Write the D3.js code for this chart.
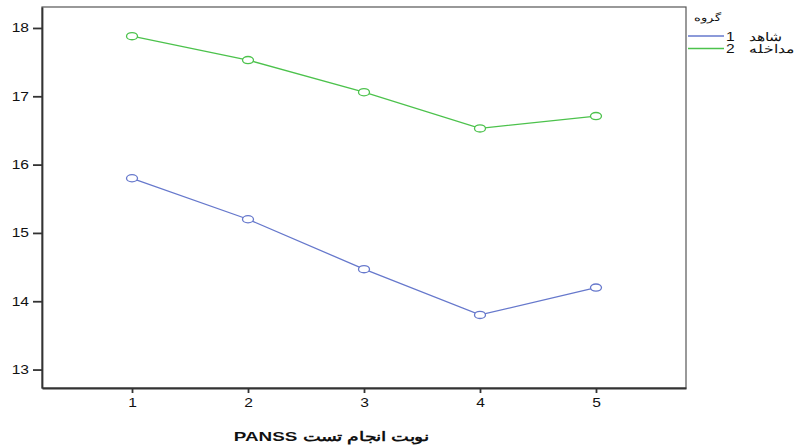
<!DOCTYPE html>
<html><head><meta charset="utf-8">
<script src="https://cdn.jsdelivr.net/npm/d3@7"></script>
<style>body{margin:0;background:#fff;} text{font-family:"Liberation Sans",Arial,sans-serif;}</style>
</head><body>
<svg id="chart" width="803" height="446"></svg>
<script>
const sessions = [1, 2, 3, 4, 5];
const controlValues = [15.80, 15.20, 14.47, 13.80, 14.20];
const interventionValues = [17.88, 17.53, 17.06, 16.53, 16.71];
const yTicks = [13, 14, 15, 16, 17, 18];
const seriesNames = ["1", "2"];
const seriesLabels = ["شاهد", "مداخله"];
const seriesColors = ["#6678cc", "#4cc24c"];
const legendTitle = "گروه";
const xTitle = "نوبت انجام تست PANSS";

(function(){
const S = 1.3; // horizontal text stretch seen in reference
const svg = d3.select("#chart");
const pL = 42, pR = 686, pT = 7, pB = 388;
const x = d3.scaleLinear().domain([0.224, 5.776]).range([pL, pR]);
const y = d3.scaleLinear().domain([12.73, 18.307]).range([pB, pT]);

svg.append("rect").attr("x", pL).attr("y", pT).attr("width", pR-pL).attr("height", pB-pT)
  .attr("fill", "none").attr("stroke", "#555").attr("stroke-width", 1.2);

const yAxis = svg.append("g").attr("transform", `translate(${pL},0)`)
  .call(d3.axisLeft(y).tickValues(yTicks).tickSizeInner(9).tickSizeOuter(0).tickFormat(d3.format("d")));
const xAxis = svg.append("g").attr("transform", `translate(0,${pB})`)
  .call(d3.axisBottom(x).tickValues(sessions).tickSizeInner(5).tickSizeOuter(0).tickFormat(d3.format("d")));
[yAxis, xAxis].forEach(a => {
  a.select(".domain").attr("stroke", "#333").attr("stroke-width", 1.8);
  a.selectAll(".tick line").attr("stroke", "#333").attr("stroke-width", 1.8);
  a.selectAll(".tick text").attr("fill", "#111").attr("font-size", 12)
   .attr("font-family", "Liberation Sans, Arial, sans-serif");
});
yAxis.selectAll(".tick text").attr("x", -13 / S).attr("transform", `scale(${S},1)`);
xAxis.selectAll(".tick text").attr("y", 10).attr("transform", `scale(${S},1)`);

const series = [controlValues, interventionValues];
const line = d3.line().x((d,i) => x(sessions[i])).y(d => y(d));
series.forEach((vals, k) => {
  svg.append("path").datum(vals).attr("d", line).attr("fill", "none")
    .attr("stroke", seriesColors[k]).attr("stroke-width", 1.3);
  svg.selectAll(null).data(vals).enter().append("ellipse")
    .attr("cx", (d,i) => x(sessions[i])).attr("cy", d => y(d))
    .attr("rx", 5.5).attr("ry", 3.6).attr("fill", "#fff")
    .attr("stroke", seriesColors[k]).attr("stroke-width", 1.3);
});

function stext(px, py, str, size, anchor, rtl, weight, sx) {
  const t = svg.append("text").attr("transform", `translate(${px},${py}) scale(${sx || S},1)`)
    .attr("font-size", size).attr("fill", "#111").attr("text-anchor", anchor).text(str);
  if (rtl) t.attr("direction", "rtl");
  if (weight) t.attr("font-weight", weight);
  return t;
}

stext(722, 21, legendTitle, 10, "start", true);
seriesNames.forEach((n, k) => {
  const ly = 36 + k*12.5;
  svg.append("line").attr("x1", 688).attr("x2", 724).attr("y1", ly).attr("y2", ly)
    .attr("stroke", seriesColors[k]).attr("stroke-width", 1.3);
  stext(726, ly+4.5, n, 12, "start", false);
  stext(749, ly+4.5, seriesLabels[k], 12, "end", true);
});

stext(331, 441, xTitle, 13, "middle", true, "bold", 1.45);
})();
</script>
</body></html>
